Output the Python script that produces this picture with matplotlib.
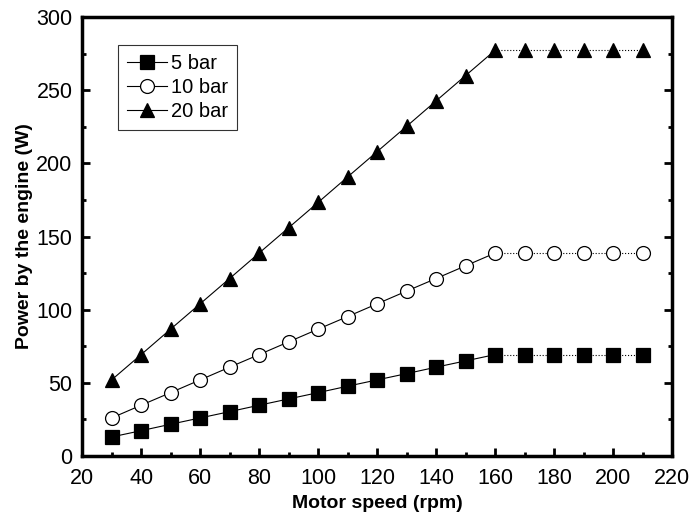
import numpy as np
import matplotlib.pyplot as plt
from matplotlib.ticker import MultipleLocator

plt.rcParams['font.family'] = ['Liberation Sans', 'DejaVu Sans']

# motor speed (rpm)
speed = [30, 40, 50, 60, 70, 80, 90, 100, 110, 120, 130, 140, 150, 160,
         170, 180, 190, 200, 210]
# power by the engine (W)
p5 = [13.0, 17.3, 21.7, 26.0, 30.3, 34.7, 39.0, 43.3, 47.7, 52.0, 56.3, 60.7,
      65.0, 69.3, 69.3, 69.3, 69.3, 69.3, 69.3]
p10 = [26.0, 34.7, 43.3, 52.0, 60.7, 69.3, 78.0, 86.7, 95.3, 104.0, 112.7,
       121.3, 130.0, 138.7, 138.7, 138.7, 138.7, 138.7, 138.7]
p20 = [52.0, 69.3, 86.7, 104.0, 121.3, 138.7, 156.0, 173.3, 190.7, 208.0,
       225.3, 242.7, 260.0, 277.3, 277.3, 277.3, 277.3, 277.3, 277.3]
labels = ['5 bar', '10 bar', '20 bar']
markers = ['s', 'o', '^']
faces = ['black', 'white', 'black']

fig = plt.figure(figsize=(6.9, 5.17), dpi=100)
ax = fig.add_axes([0.119, 0.118, 0.855, 0.849])

x = np.array(speed)
k = speed.index(160)
for y, lab, m, fc in zip([p5, p10, p20], labels, markers, faces):
    y = np.array(y)
    # solid part up to 160 rpm, dotted afterwards
    ax.plot(x[:k + 1], y[:k + 1], '-', color='black', lw=0.8, zorder=2)
    ax.plot(x[k:], y[k:], ':', color='black', lw=0.8, zorder=2)
    ax.plot(x, y, linestyle='none', marker=m, ms=10, mfc=fc, mec='black',
            mew=0.9, zorder=3)
    ax.plot([], [], '-', color='black', lw=0.8, marker=m, ms=10, mfc=fc,
            mec='black', mew=0.9, label=lab)

ax.set_xlim(20, 220)
ax.set_ylim(0, 300)
ax.xaxis.set_major_locator(MultipleLocator(20))
ax.xaxis.set_minor_locator(MultipleLocator(10))
ax.yaxis.set_major_locator(MultipleLocator(50))
ax.yaxis.set_minor_locator(MultipleLocator(25))
ax.tick_params(which='both', direction='in', right=True, top=False,
               labelsize=15.5, width=2)
ax.tick_params(which='major', length=6)
ax.tick_params(which='minor', length=3)
ax.tick_params(axis='x', which='major', pad=9)
ax.tick_params(axis='y', which='major', pad=7)
for s in ax.spines.values():
    s.set_linewidth(2.5)

ax.set_xlabel('Motor speed (rpm)', fontsize=14, fontweight='bold', labelpad=4)
ax.set_ylabel('Power by the engine (W)', fontsize=14, fontweight='bold', labelpad=2)

leg = ax.legend(loc='upper left', bbox_to_anchor=(0.06, 0.937), fontsize=14.5,
                frameon=True, fancybox=False, edgecolor='black',
                handlelength=2.0, handletextpad=0.2, borderpad=0.45,
                labelspacing=0.25, borderaxespad=0)
leg.get_frame().set_linewidth(0.8)

plt.savefig('out.png', dpi=100)
plt.close()
